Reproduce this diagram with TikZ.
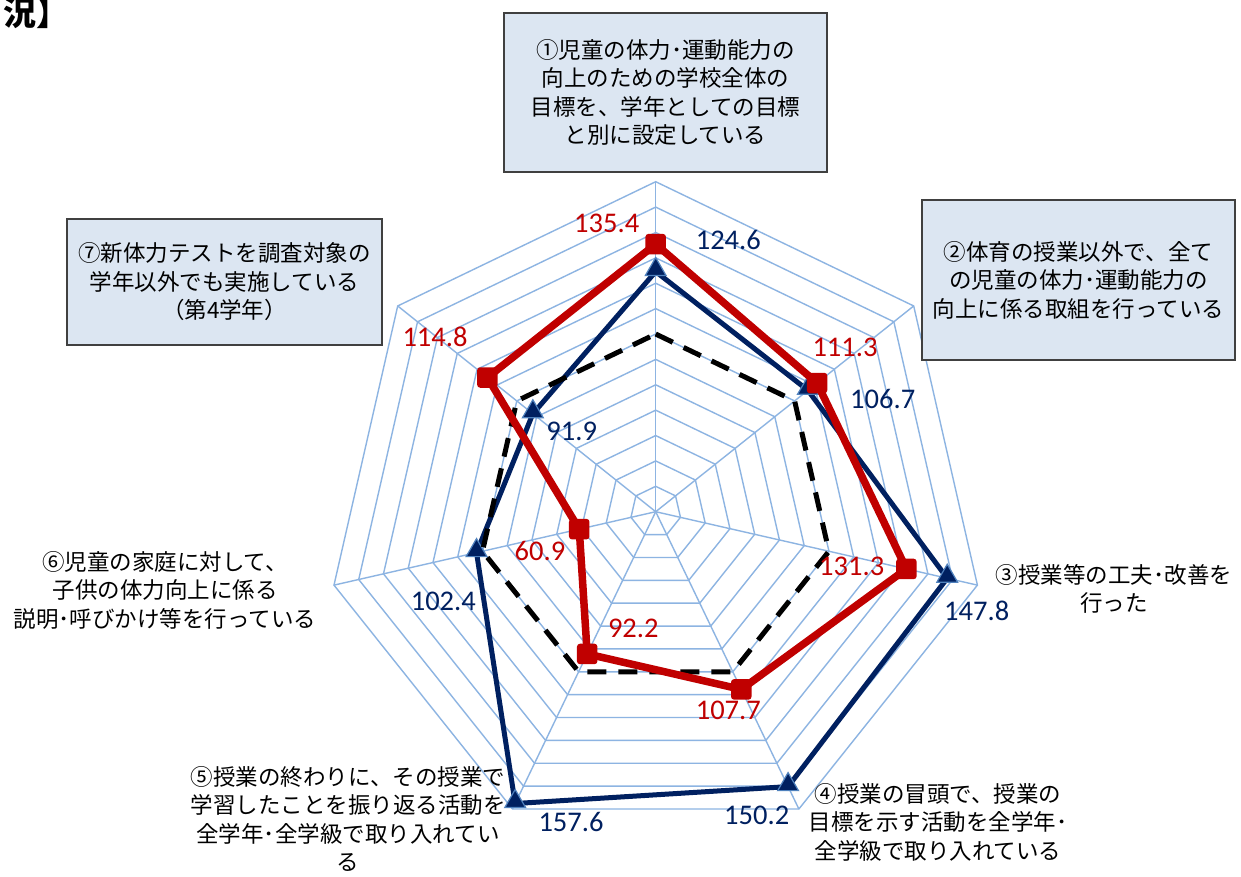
\documentclass[tikz,border=0pt]{standalone}
\usepackage{fontspec}
\setmainfont{Carlito}
\newfontfamily\jp{Noto Sans CJK JP}
\usetikzlibrary{calc,shapes.geometric}
\definecolor{gridc}{HTML}{8DB4E2}
\definecolor{redc}{HTML}{C00000}
\definecolor{navy}{HTML}{002060}
\definecolor{boxfill}{HTML}{DCE6F2}
\definecolor{boxline}{HTML}{404040}
\definecolor{triedge}{HTML}{4F81BD}
\begin{document}
\begin{tikzpicture}[x=1pt,y=-1pt,
  gridline/.style={draw=gridc, line width=1.4pt},
  catbox/.style={draw=boxline, line width=1.5pt, fill=boxfill, align=center,
    font=\jp\fontsize{22.5}{28.5}\selectfont, inner sep=0pt, text=black},
  cattext/.style={align=center, font=\jp\fontsize{22.5}{28.5}\selectfont, inner sep=0pt, text=black},
  redval/.style={font=\fontsize{28.5}{28.5}\selectfont, text=redc, inner sep=0pt},
  blueval/.style={font=\fontsize{28.5}{28.5}\selectfont, text=navy, inner sep=0pt},
  redmark/.style={rectangle, fill=redc, rounded corners=3pt, minimum size=20.5pt, inner sep=0pt},
  bluemark/.style={regular polygon, regular polygon sides=3, fill=navy, draw=triedge, line width=1.2pt, minimum size=24pt, inner sep=0pt},
  redline/.style={draw=redc, line width=7.5pt, line join=round},
  blueline/.style={draw=navy, line width=5pt, line join=round},
  avgline/.style={draw=black, line width=5pt, dash pattern=on 19pt off 12pt, line join=round}
]
\useasboundingbox (0,0) rectangle (1241,876);
\fill[white] (0,0) rectangle (1241,876);

% title fragment
\node[anchor=east, inner sep=0pt, font=\jp\bfseries\fontsize{33}{33}\selectfont] (title) at (70,13) {況】};

\begin{scope}[shift={(655.7,511.7)}]
  % grid rings
  \foreach \i in {1,...,13}{
    \draw[gridline] (-90:{\i*25.3846}) \foreach \k in {1,...,6}{ -- ({\k*51.428571-90}:{\i*25.3846}) } -- cycle;
  }
  % spokes
  \foreach \k in {0,...,6}{
    \draw[gridline] (0,0) -- ({\k*51.428571-90}:330);
  }
  % data coordinates
  \foreach \v [count=\k from 0] in {135.4,111.3,131.3,107.7,92.2,60.9,114.8}{
    \coordinate (r\k) at ({\k*51.428571-90}:{(\v-30)*2.538462});
  }
  \foreach \v [count=\k from 0] in {124.6,106.7,147.8,150.2,157.6,102.4,91.9}{
    \coordinate (b\k) at ({\k*51.428571-90}:{(\v-30)*2.538462});
  }
  \foreach \k in {0,...,6}{
    \coordinate (d\k) at ({\k*51.428571-90}:177.6923);
  }
\end{scope}

% blue series
\draw[blueline] (b0) -- (b1) -- (b2) -- (b3) -- (b4) -- (b5) -- (b6) -- cycle;
\foreach \k in {0,...,6}{ \node[bluemark] (bm\k) at ($(b\k)+(0,-2)$) {}; }
% average (dashed)
\draw[avgline] (d0) -- (d1) -- (d2) -- (d3) -- (d4) -- (d5) -- (d6) -- cycle;
% red series
\draw[redline] (r0) -- (r1) -- (r2) -- (r3) -- (r4) -- (r5) -- (r6) -- cycle;
\foreach \k in {0,...,6}{ \node[redmark] (rm\k) at (r\k) {}; }

% value labels
\node[redval] (rv0) at (606.7,223.3) {135.4};
\node[redval] (rv1) at (845,347) {111.3};
\node[redval] (rv2) at (851.7,566) {131.3};
\node[redval] (rv3) at (728.3,710.7) {107.7};
\node[redval] (rv4) at (633.3,628.3) {92.2};
\node[redval] (rv5) at (540,550.7) {60.9};
\node[redval] (rv6) at (435,337.3) {114.8};
\node[blueval] (bv0) at (728.3,240) {124.6};
\node[blueval] (bv1) at (882.7,399.3) {106.7};
\node[blueval] (bv2) at (976.7,610.7) {147.8};
\node[blueval] (bv3) at (756.7,815) {150.2};
\node[blueval] (bv4) at (571,821.7) {157.6};
\node[blueval] (bv5) at (443.3,601) {102.4};
\node[blueval] (bv6) at (571.7,431.7) {91.9};

% category labels
\node[catbox, minimum width=323pt, minimum height=159pt] (c1) at (665.5,92.5)
  {①児童の体力･運動能力の\\向上のための学校全体の\\目標を、学年としての目標\\と別に設定している};
\node[catbox, minimum width=313pt, minimum height=160pt] (c2) at (1078.5,280)
  {②体育の授業以外で、全て\\の児童の体力･運動能力の\\向上に係る取組を行っている};
\node[cattext] (c3) at (1114,589) {③授業等の工夫･改善を\\行った};
\node[cattext] (c4) at (938,822) {④授業の冒頭で、授業の\\目標を示す活動を全学年･\\全学級で取り入れている};
\node[cattext] (c5) at (348,819) {⑤授業の終わりに、その授業で\\学習したことを振り返る活動を\\全学年･全学級で取り入れてい\\る};
\node[cattext] (c6) at (165,590) {⑥児童の家庭に対して、\\子供の体力向上に係る\\説明･呼びかけ等を行っている};
\node[catbox, minimum width=315pt, minimum height=126pt] (c7) at (224.5,282)
  {⑦新体力テストを調査対象の\\学年以外でも実施している\\（第4学年）};
\end{tikzpicture}
\end{document}
